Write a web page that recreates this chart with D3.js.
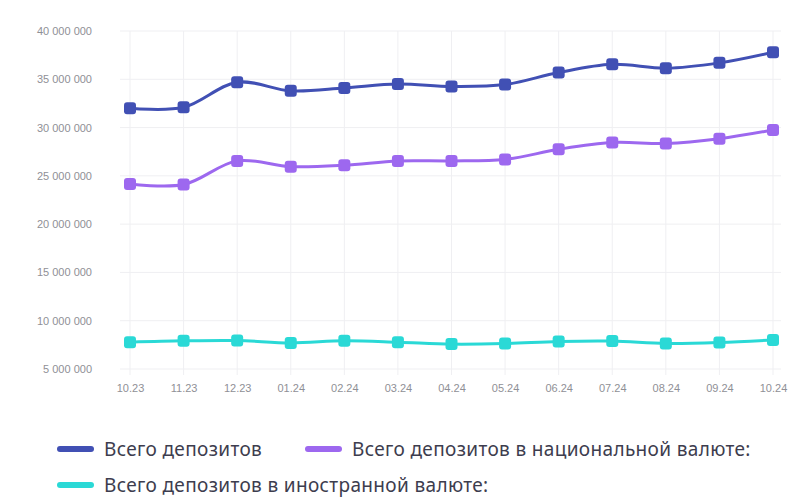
<!DOCTYPE html>
<html>
<head>
<meta charset="utf-8">
<script src="https://cdn.jsdelivr.net/npm/d3@7"></script>
<style>
  body { margin: 0; background: #fff; }
  svg { display: block; font-family: "Noto Sans", sans-serif; }
</style>
</head>
<body>
<svg id="chart" width="800" height="502"></svg>
<script>
var months = ['10.23', '11.23', '12.23', '01.24', '02.24', '03.24', '04.24', '05.24', '06.24', '07.24', '08.24', '09.24', '10.24'];
var totalDeposits = [32000000, 32100000, 34700000, 33800000, 34100000, 34500000, 34250000, 34450000, 35700000, 36550000, 36150000, 36700000, 37800000];
var nationalDeposits = [24150000, 24100000, 26550000, 25950000, 26100000, 26550000, 26550000, 26700000, 27750000, 28450000, 28350000, 28850000, 29750000];
var foreignDeposits = [7780000, 7920000, 7950000, 7700000, 7920000, 7780000, 7580000, 7640000, 7850000, 7890000, 7640000, 7740000, 8010000];
var yTicks = [5000000, 10000000, 15000000, 20000000, 25000000, 30000000, 35000000, 40000000];

var series = [
    { name: 'Всего депозитов', values: totalDeposits, color: '#4150b4' },
    { name: 'Всего депозитов в национальной валюте:', values: nationalDeposits, color: '#9d68ef' },
    { name: 'Всего депозитов в иностранной валюте:', values: foreignDeposits, color: '#2ad9d6' }
];

var svg = d3.select('#chart');

var x = d3.scalePoint()
    .domain(months)
    .range([130, 773]);

var y = d3.scaleLinear()
    .domain([5000000, 40000000])
    .range([369, 31]);

function fmt(v) {
    return d3.format(',')(v).replace(/,/g, ' ');
}

// grid
svg.append('g')
    .selectAll('line')
    .data(yTicks)
    .enter()
    .append('line')
    .attr('x1', 120)
    .attr('x2', 781)
    .attr('y1', function (d) { return y(d); })
    .attr('y2', function (d) { return y(d); })
    .attr('stroke', '#efeff2')
    .attr('stroke-width', 1);

svg.append('g')
    .selectAll('line')
    .data(months)
    .enter()
    .append('line')
    .attr('x1', function (d) { return x(d); })
    .attr('x2', function (d) { return x(d); })
    .attr('y1', 31)
    .attr('y2', 375)
    .attr('stroke', '#efeff2')
    .attr('stroke-width', 1);

// axes
var yAxis = svg.append('g')
    .attr('transform', 'translate(92,0)')
    .call(d3.axisLeft(y).tickValues(yTicks).tickFormat(fmt).tickSize(0).tickPadding(0));
yAxis.select('.domain').remove();
yAxis.selectAll('text')
    .attr('fill', '#8f9096')
    .style('font-size', '11px');

var xAxis = svg.append('g')
    .attr('transform', 'translate(0,384)')
    .call(d3.axisBottom(x).tickSize(0).tickPadding(0));
xAxis.select('.domain').remove();
xAxis.selectAll('text')
    .attr('fill', '#8f9096')
    .style('font-size', '11px');

// lines
var line = d3.line()
    .x(function (d, i) { return x(months[i]); })
    .y(function (d) { return y(d); })
    .curve(d3.curveCatmullRom.alpha(0.5));

series.forEach(function (s) {
    svg.append('path')
        .datum(s.values)
        .attr('d', line)
        .attr('fill', 'none')
        .attr('stroke', s.color)
        .attr('stroke-width', 3);

    svg.append('g')
        .selectAll('rect')
        .data(s.values)
        .enter()
        .append('rect')
        .attr('x', function (d, i) { return x(months[i]) - 6; })
        .attr('y', function (d) { return y(d) - 6; })
        .attr('width', 12)
        .attr('height', 12)
        .attr('rx', 3)
        .attr('fill', s.color);
});

// legend
var legendPos = [[57, 449], [305, 449], [57, 485]];
var legend = svg.append('g')
    .selectAll('g')
    .data(series)
    .enter()
    .append('g')
    .attr('transform', function (d, i) { return 'translate(' + legendPos[i][0] + ',' + legendPos[i][1] + ')'; });

legend.append('line')
    .attr('x1', 3)
    .attr('x2', 34)
    .attr('stroke', function (d) { return d.color; })
    .attr('stroke-width', 6)
    .attr('stroke-linecap', 'round');

legend.append('text')
    .attr('x', 47)
    .attr('dy', '0.35em')
    .attr('fill', '#3d3d4e')
    .style('font-size', '19px')
    .style('letter-spacing', '0.35px')
    .text(function (d) { return d.name; });
</script>
</body>
</html>
